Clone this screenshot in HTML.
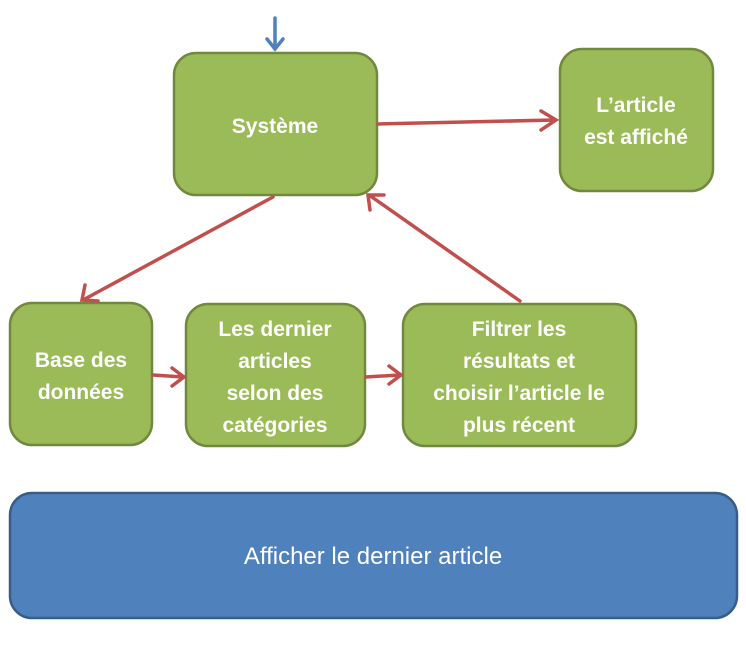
<!DOCTYPE html>
<html><head><meta charset="utf-8"><style>
html,body{margin:0;padding:0;background:#fff;width:746px;height:657px;overflow:hidden}
svg text{font-family:"Liberation Sans",sans-serif;fill:#fff}
.b{font-weight:bold;font-size:21px}
</style></head><body>
<svg width="746" height="657" viewBox="0 0 746 657">
<g fill="#9BBB59" stroke="#71893F" stroke-width="2.5">
<rect x="174" y="53" width="203" height="142" rx="22"/>
<rect x="560" y="49" width="153" height="142" rx="22"/>
<rect x="10" y="303" width="142" height="142" rx="22"/>
<rect x="186" y="304" width="179" height="142" rx="22"/>
<rect x="403" y="304" width="233" height="142" rx="22"/>
</g>
<rect x="10" y="493" width="727" height="125" rx="22" fill="#4F81BD" stroke="#385D8A" stroke-width="2.5"/>
<g stroke="#C0504D" stroke-width="3.5" fill="none" stroke-linecap="round">
<path d="M378 124 L555 120 M541 111 L556 120 L541 130"/>
<path d="M273 197 L83 300 M85 285 L82 300 L98 301"/>
<path d="M520 301 L369 195 M370 210 L368 195 L384 195"/>
<path d="M153 375 L183 377 M172 368 L184 377 L172 386"/>
<path d="M366 377 L400 375 M389 366 L401 375 L389 384"/>
</g>
<g stroke="#4F81BD" stroke-width="3.5" fill="none" stroke-linecap="round">
<path d="M275 18 L275 48 M267 39 L275 49 L283 39"/>
</g>
<g class="b" text-anchor="middle">
<text x="275" y="133">Système</text>
<text x="636" y="112">L’article</text>
<text x="636" y="144">est affiché</text>
<text x="81" y="367">Base des</text>
<text x="81" y="399">données</text>
<text x="275" y="336">Les dernier</text>
<text x="275" y="368">articles</text>
<text x="275" y="400">selon des</text>
<text x="275" y="432">catégories</text>
<text x="519" y="336">Filtrer les</text>
<text x="519" y="368">résultats et</text>
<text x="519" y="400">choisir l’article le</text>
<text x="519" y="432">plus récent</text>
</g>
<text x="373" y="564" text-anchor="middle" font-size="24">Afficher le dernier article</text>
</svg>
</body></html>
